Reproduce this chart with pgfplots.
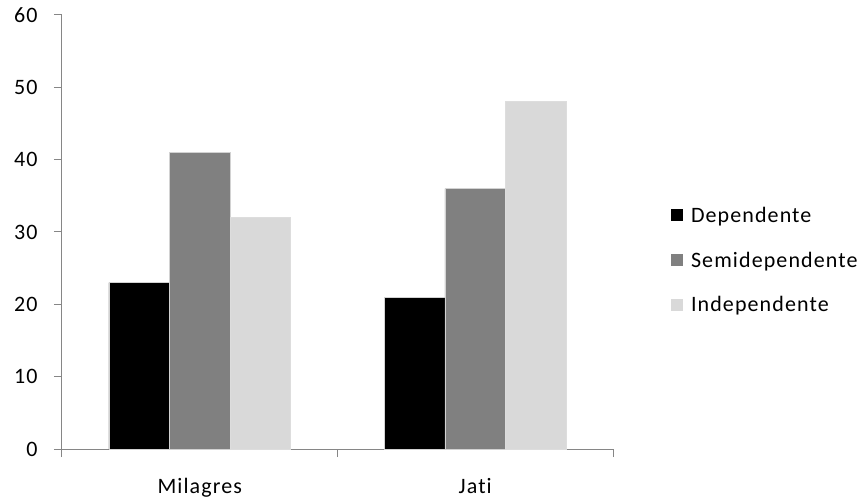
\documentclass[border=0pt]{standalone}
\usepackage{fontspec}
\setmainfont{Carlito}
\newfontfamily\chartfont[LetterSpace=5, Ligatures=NoCommon]{Carlito}
\usepackage{pgfplots}
\pgfplotsset{compat=1.18}

\definecolor{axisgray}{RGB}{134,134,134}
\definecolor{midgray}{RGB}{128,128,128}
\definecolor{lightgray}{RGB}{217,217,217}

\begin{document}
\begin{tikzpicture}
    \useasboundingbox (-62pt,-51pt) rectangle (804pt,449pt);
    \begin{axis}[
        scale only axis,
        width=551pt, height=434pt,
        xmin=0, xmax=2,
        ymin=0, ymax=60,
        ytick={0,10,20,30,40,50,60},
        xtick={0,1,2},
        xticklabels={},
        extra x ticks={0.5,1.5},
        extra x tick labels={Milagres,Jati},
        extra x tick style={major tick length=0pt,
            xticklabel style={yshift=-26pt}},
        axis lines=left,
        axis line style={-, draw=axisgray, line width=1pt},
        tick style={draw=axisgray, line width=1pt},
        tick align=outside,
        major tick length=8pt,
        ticklabel style={font=\chartfont\fontsize{22}{26}\selectfont, text=black},
        yticklabel style={xshift=-13pt},
        /pgf/number format/assume math mode=true,
        ybar=0pt,
        bar width=0.22,
        legend style={
            at={(1.105,0.435)}, anchor=west,
            draw=none, fill=none,
            font=\chartfont\fontsize{22}{26}\selectfont,
            row sep=24pt,
            column sep=6pt,
            cells={anchor=west},
            inner sep=0pt,
        },
        legend image code/.code={
            \path[#1, draw=none] (0pt,-6pt) rectangle (12pt,6pt);
        },
    ]
    \addplot[fill=black, draw=gray!35, line width=0.6pt] coordinates {(0.5,23) (1.5,21)};
    \addplot[fill=midgray, draw=gray!35, line width=0.6pt] coordinates {(0.5,41) (1.5,36)};
    \addplot[fill=lightgray, draw=lightgray!90, line width=0.6pt] coordinates {(0.5,32) (1.5,48)};
    \legend{Dependente,Semidependente,Independente}
    \end{axis}
\end{tikzpicture}
\end{document}
